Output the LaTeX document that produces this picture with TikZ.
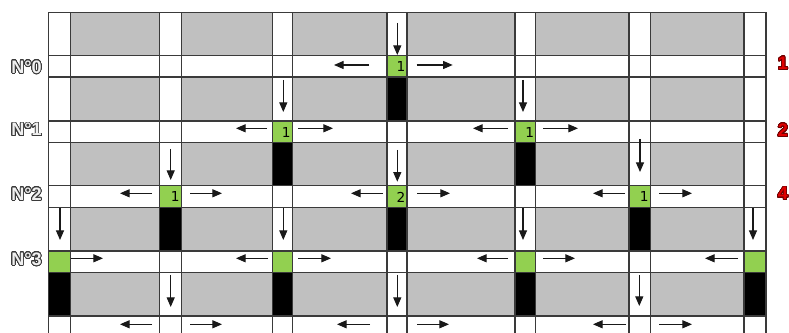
\documentclass[tikz,border=0pt]{standalone}
\usepackage{fontspec}
\setmainfont{DejaVu Sans}
\newfontfamily\labelfont{Liberation Sans}
\usepackage{contour}
\contournumber{32}
\contourlength{0.45pt}
\usetikzlibrary{arrows.meta}
\definecolor{lotgray}{HTML}{C0C0C0}
\definecolor{litgreen}{HTML}{92D050}
\definecolor{linegray}{HTML}{3A3A3A}
\definecolor{tagred}{HTML}{E00000}
\definecolor{tagdark}{HTML}{6E0000}
\begin{document}
\begin{tikzpicture}[x=0.02cm,y=-0.02cm,
    lot/.style={fill=lotgray},
    lit/.style={fill=litgreen},
    jam/.style={fill=black},
    road line/.style={draw=linegray,line width=0.75pt,line cap=rect},
    flow/.style={-{Triangle[length=5.5pt,width=4.6pt]},line width=0.6pt,draw=black!90},
    count/.style={anchor=east,inner sep=0pt,font=\fontsize{7.8}{9}\selectfont},
    street/.style={anchor=east,inner sep=0pt,font=\labelfont\bfseries\fontsize{10.3}{12}\selectfont},
    level/.style={anchor=west,inner sep=0pt,font=\labelfont\bfseries\fontsize{10.3}{12}\selectfont}]
      \clip (0,0) rectangle (789,333);
      \foreach \xa/\xb in {70.3/159.7,181.3/272.3,292.3/387,407/515,535.7/629,650.3/744}
        \foreach \ya/\yb in {12.3/55.3,77/121,142.7/185.7,207.3/251,272.7/316}
          \fill[lot] (\xa,\ya) rectangle (\xb,\yb);
      \foreach \xa/\xb/\ya/\yb/\yc/\n [count=\i] in {387/407/55.3/77/121/1,
          272.3/292.3/121/142.7/185.7/1,515/535.7/121/142.7/185.7/1,
          159.7/181.3/185.7/207.3/251/1,387/407/185.7/207.3/251/2,629/650.3/185.7/207.3/251/1}
      { \fill[lit] (\xa,\ya) rectangle (\xb,\yb);
        \fill[jam] (\xa,\yb) rectangle (\xb,\yc);
        \node[count] (car\i) at (\xb-1.3,{(\ya+\yb)/2+0.5}) {\n}; }
      \foreach \xa/\xb in {48.7/70.3,272.3/292.3,515/535.7,744/766}
      { \fill[lit] (\xa,251) rectangle (\xb,272.7);
        \fill[jam] (\xa,272.7) rectangle (\xb,316); }
      \foreach \x in {48.7,70.3,159.7,181.3,272.3,292.3,387,407,515,535.7,629,650.3,744,766}
        \draw[road line] (\x,12.3) -- (\x,345);
      \foreach \y in {12.3,55.3,77,121,142.7,185.7,207.3,251,272.7,316}
        \draw[road line] (48.7,\y) -- (766,\y);
      \foreach \x/\ya/\yb in {60/208/240,170.7/149/180,170.7/275/307,283.3/80/112,283.3/208/240,
          397.3/23/55,397.3/150/181.7,397.3/275/307,523/80/112,523/208/240,640/139/172,
          639.3/275/306,753/208/240}
        \draw[flow] (\x,\ya) -- (\x,\yb);
      \foreach \xa/\xb/\y in {369/334/65,416.7/452.7/65,
          267/236/128.3,298/333/128.3,508/473/128.3,543/578/128.3,
          152/120/193.3,190/222/193.3,383/351/193.3,417/450/193.3,625/593/193.3,659/692/193.3,
          71/103/258.3,268/236/258.3,298/331/258.3,508/477/258.3,543/575/258.3,738/705/258.3,
          152/120/324.3,190/222/324.3,370/337/324.3,417/449/324.3,626/593/324.3,659/692/324.3}
        \draw[flow] (\xa,\y) -- (\xb,\y);
      \foreach \t/\y [count=\i from 0] in {N°0/67.5,N°1/130,N°2/194.5,N°3/259.5}
        \node[street] (row\i) at (42,\y) {\contour{linegray}{\textcolor{gray!12}{\t}}};
      \foreach \t/\y in {1/63.7,2/130.7,4/194}
        \node[level] (total\t) at (777.5,\y) {\contour{tagdark}{\textcolor{tagred}{\t}}};
    \end{tikzpicture}
\end{document}
